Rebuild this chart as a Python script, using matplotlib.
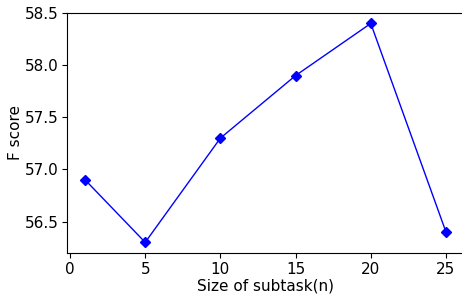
import matplotlib
matplotlib.use('Agg')
import matplotlib.pyplot as plt

# subtask sizes and F scores
sizes = [1, 5, 10, 15, 20, 25]
f_scores = [56.9, 56.3, 57.3, 57.9, 58.4, 56.4]

fig = plt.figure(figsize=(4.62, 2.95), dpi=100)
ax = fig.add_axes([67 / 462, 41.7 / 295, 397 / 462, 240.8 / 295])
ax.plot(sizes, f_scores, color='blue', marker='D', markersize=5, linewidth=1)

ax.set_xlabel('Size of subtask(n)', fontsize=11, labelpad=1.5)
ax.set_ylabel('F score', fontsize=11, labelpad=1)
ax.tick_params(labelsize=11, pad=2.5)
ax.set_xticks([0, 5, 10, 15, 20, 25])
ax.set_yticks([56.5, 57.0, 57.5, 58.0, 58.5])

fig.savefig('out.png', dpi=100)
